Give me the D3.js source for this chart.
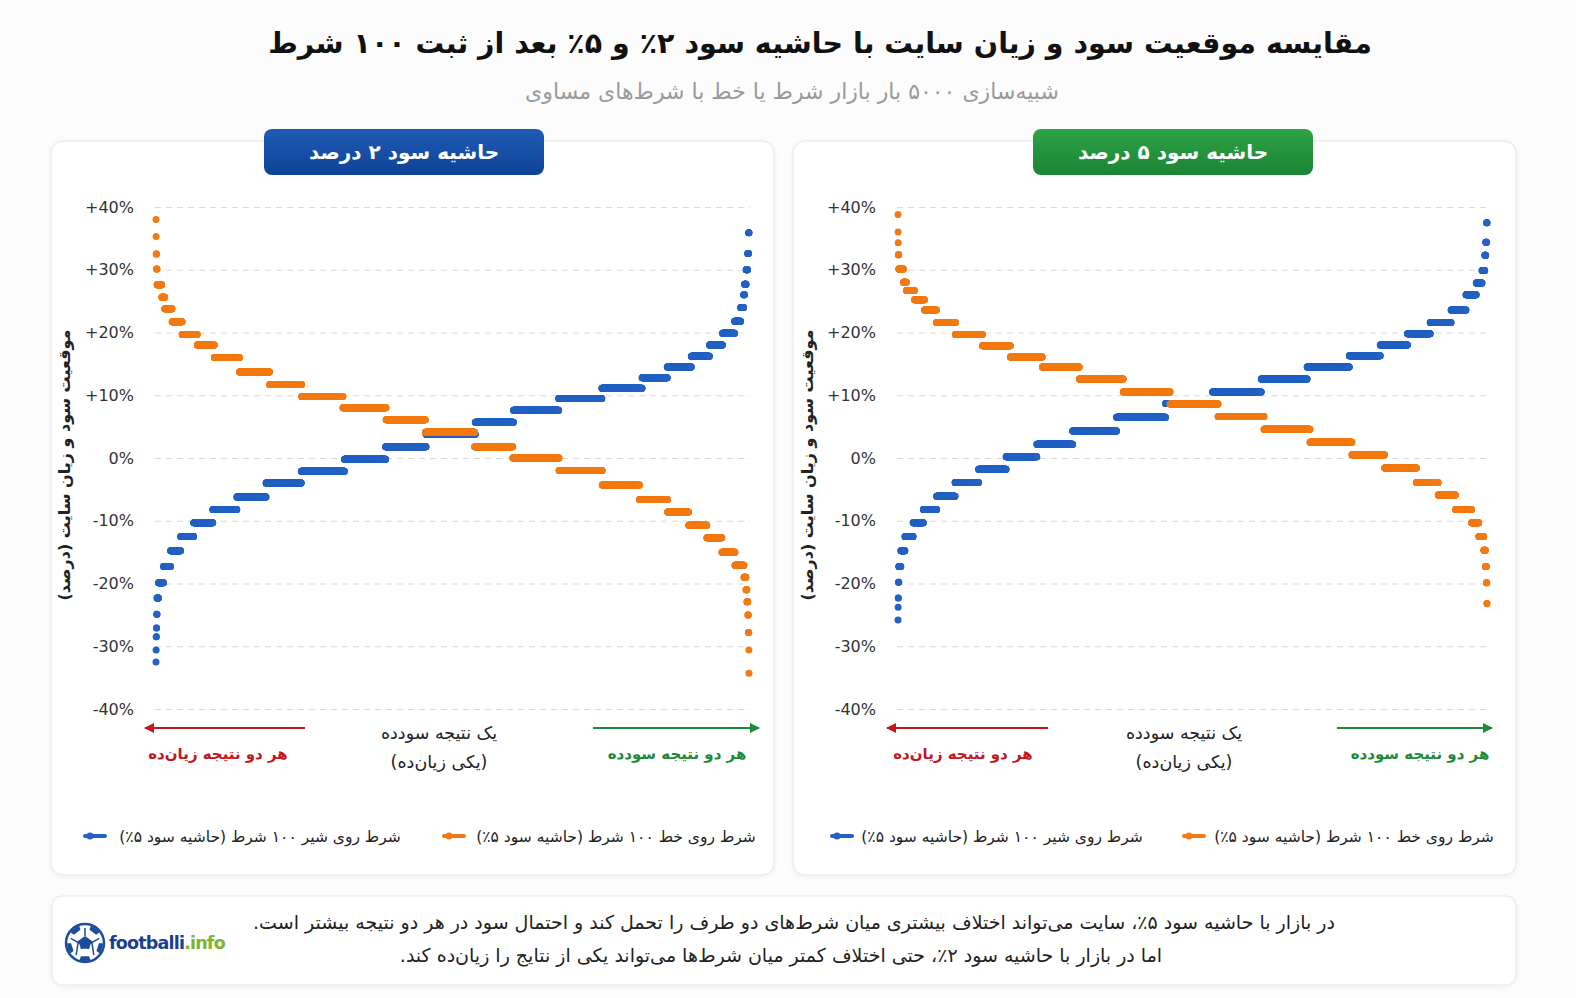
<!DOCTYPE html>
<html lang="fa">
<head>
<meta charset="utf-8">
<script src="https://cdn.jsdelivr.net/npm/d3@7/dist/d3.min.js"></script>
<style>
  body { margin: 0; background: #fcfcfc; }
  svg text { font-family: "DejaVu Sans", sans-serif; }
  .fa { direction: rtl; unicode-bidi: embed; }
</style>
</head>
<body>
<div id="chart"></div>
<script>
// y ticks (percent)
var yTicks = [40, 30, 20, 10, 0, -10, -20, -30, -40];

// 2% margin: sorted results of 5000 simulations, profit level (%) and how many runs landed on it
var m2LineValues = [38.0, 35.3, 32.5, 30.1, 27.6, 25.6, 23.8, 21.7, 19.7, 18.0, 16.0, 13.7, 11.7, 9.8, 8.0, 6.1, 4.1, 1.8, 0.0, -2.0, -4.3, -6.6, -8.6, -10.7, -12.7, -15.0, -17.1, -19.0, -21.0, -22.9, -25.0, -27.8, -30.6, -34.3];
var m2LineCounts = [1, 1, 3, 4, 40, 25, 62, 85, 127, 144, 212, 254, 271, 347, 364, 331, 415, 322, 390, 364, 314, 237, 178, 153, 127, 110, 76, 17, 8, 8, 4, 4, 1, 1];
var m2HeadValues = [-32.5, -30.6, -28.5, -27.1, -24.9, -22.3, -19.9, -17.3, -14.8, -12.5, -10.3, -8.2, -6.2, -4.0, -2.1, -0.2, 1.8, 3.8, 5.7, 7.6, 9.5, 11.1, 12.8, 14.5, 16.2, 18.0, 19.9, 21.8, 24.0, 26.0, 27.7, 30.0, 32.6, 35.9];
var m2HeadCounts = [1, 1, 2, 2, 3, 13, 42, 59, 85, 110, 161, 203, 246, 297, 364, 347, 341, 415, 322, 381, 364, 339, 212, 203, 153, 110, 102, 51, 25, 8, 13, 13, 8, 4];

// 5% margin
var m5LineValues = [38.8, 36.0, 34.3, 32.4, 30.1, 28.0, 26.7, 25.2, 23.6, 21.6, 19.7, 17.9, 16.1, 14.5, 12.6, 10.5, 8.6, 6.6, 4.6, 2.5, 0.5, -1.6, -3.9, -5.9, -8.2, -10.3, -12.5, -14.7, -17.3, -19.9, -23.2];
var m5LineCounts = [1, 1, 1, 4, 40, 25, 68, 85, 102, 161, 229, 237, 271, 314, 373, 398, 407, 390, 390, 356, 277, 271, 184, 147, 136, 62, 42, 14, 8, 4, 2];
var m5HeadValues = [-25.8, -23.8, -22.3, -19.8, -17.3, -14.8, -12.5, -10.3, -8.2, -6.1, -3.9, -1.8, 0.2, 2.2, 4.3, 6.5, 8.7, 10.5, 12.6, 14.5, 16.3, 18.0, 19.8, 21.6, 23.6, 26.0, 27.9, 29.9, 32.3, 34.4, 37.5];
var m5HeadCounts = [1, 1, 2, 3, 17, 34, 68, 85, 110, 153, 195, 229, 255, 297, 365, 407, 390, 404, 381, 350, 257, 226, 189, 173, 124, 85, 48, 23, 8, 7, 4];

var legendHead = "شرط روی شیر ۱۰۰ شرط (حاشیه سود ۵٪)";
var legendLine = "شرط روی خط ۱۰۰ شرط (حاشیه سود ۵٪)";

var orange = "#f27a12";
var blue = "#2361c3";
var red = "#c4161c";
var green = "#1d8a38";

var svgWidth = 1576;
var svgHeight = 998;

var svg = d3.select("#chart")
  .append("svg")
  .attr("width", svgWidth)
  .attr("height", svgHeight);

var defs = svg.append("defs");

var shadow = defs.append("filter").attr("id", "shadow")
  .attr("x", "-5%").attr("y", "-5%").attr("width", "110%").attr("height", "110%");
shadow.append("feDropShadow").attr("dx", 0).attr("dy", 1).attr("stdDeviation", 2)
  .attr("flood-color", "#000").attr("flood-opacity", 0.06);

function gradient(id, top, bottom) {
  var gr = defs.append("linearGradient").attr("id", id)
    .attr("x1", 0).attr("y1", 0).attr("x2", 0).attr("y2", 1);
  gr.append("stop").attr("offset", "0%").attr("stop-color", top);
  gr.append("stop").attr("offset", "100%").attr("stop-color", bottom);
}
gradient("gBlue", "#1f5bb5", "#0e4396");
gradient("gGreen", "#2ea347", "#1b8433");

function arrowMarker(id, color) {
  defs.append("marker").attr("id", id)
    .attr("viewBox", "0 0 10 10").attr("refX", 9).attr("refY", 5)
    .attr("markerWidth", 5).attr("markerHeight", 5).attr("orient", "auto")
    .append("path").attr("d", "M0,0 L10,5 L0,10 z").attr("fill", color);
}
arrowMarker("arrRed", red);
arrowMarker("arrGreen", green);

// Title
svg.append("text")
  .attr("class", "fa")
  .attr("x", 820).attr("y", 53)
  .attr("text-anchor", "middle")
  .attr("font-size", 28.5).attr("font-weight", "bold").attr("fill", "#111")
  .text("مقایسه موقعیت سود و زیان سایت با حاشیه سود ۲٪ و ۵٪ بعد از ثبت ۱۰۰ شرط");

svg.append("text")
  .attr("class", "fa")
  .attr("x", 792).attr("y", 99)
  .attr("text-anchor", "middle")
  .attr("font-size", 22).attr("fill", "#9a9a9a")
  .text("شبیه‌سازی ۵۰۰۰ بار بازار شرط یا خط با شرط‌های مساوی");

var y = d3.scaleLinear().domain([-40, 40]).range([709, 207]);

function expand(values, counts) {
  var out = [];
  values.forEach(function(v, i) {
    for (var k = 0; k < counts[i]; k++) out.push(v);
  });
  return out;
}

function drawPanel(p) {
  var g = svg.append("g");

  g.append("rect")
    .attr("x", p.left).attr("y", 141)
    .attr("width", 723).attr("height", 734)
    .attr("rx", 12)
    .attr("fill", "#fff")
    .attr("stroke", "#e6e6e6")
    .attr("filter", "url(#shadow)");

  // header badge
  g.append("rect")
    .attr("x", p.badgeX).attr("y", 129)
    .attr("width", 280).attr("height", 46)
    .attr("rx", 8)
    .attr("fill", p.badgeFill);
  g.append("text")
    .attr("class", "fa")
    .attr("x", p.badgeX + 140).attr("y", 159)
    .attr("text-anchor", "middle")
    .attr("font-size", 20).attr("font-weight", "bold").attr("fill", "#fff")
    .text(p.title);

  // y axis with dashed grid
  var leftAxis = d3.axisLeft(y)
    .tickValues(yTicks)
    .tickSize(-(p.x1 - p.x0 + 2))
    .tickPadding(21)
    .tickFormat(d => (d > 0 ? "+" : "") + d + "%");

  var ax = g.append("g")
    .attr("transform", `translate(${p.x0 - 1}, 0)`)
    .call(leftAxis);
  ax.select(".domain").remove();
  ax.selectAll(".tick line")
    .attr("stroke", "#d9d9d9")
    .attr("stroke-dasharray", "6,5");
  ax.selectAll(".tick text")
    .attr("font-family", "'Open Sans', sans-serif")
    .attr("font-size", 16)
    .attr("fill", "#333");

  g.append("text")
    .attr("class", "fa")
    .attr("transform", `translate(${p.titleX}, 465) rotate(-90)`)
    .attr("text-anchor", "middle")
    .attr("font-size", 16).attr("font-weight", "bold").attr("fill", "#222")
    .text("موقعیت سود و زیان سایت (درصد)");

  // dots: blue first, orange on top
  [p.head, p.line].forEach(function(s) {
    var vals = expand(s.values, s.counts);
    var x = d3.scaleLinear().domain([0, vals.length - 1]).range([p.x0, p.x1]);
    g.append("g").selectAll("circle")
      .data(vals)
      .enter()
      .append("circle")
      .attr("cx", (d, i) => x(i))
      .attr("cy", d => y(d))
      .attr("r", 3.5)
      .attr("fill", s.color);
  });

  // arrows under the chart
  g.append("line")
    .attr("x1", p.redArrow[0]).attr("x2", p.redArrow[1])
    .attr("y1", 728).attr("y2", 728)
    .attr("stroke", red).attr("stroke-width", 2)
    .attr("marker-end", "url(#arrRed)");
  g.append("line")
    .attr("x1", p.greenArrow[0]).attr("x2", p.greenArrow[1])
    .attr("y1", 728).attr("y2", 728)
    .attr("stroke", green).attr("stroke-width", 2)
    .attr("marker-end", "url(#arrGreen)");

  g.append("text").attr("class", "fa")
    .attr("x", p.redText).attr("y", 759)
    .attr("text-anchor", "middle").attr("font-size", 15).attr("font-weight", "bold").attr("fill", red)
    .text("هر دو نتیجه زیان‌ده");
  g.append("text").attr("class", "fa")
    .attr("x", p.greenText).attr("y", 759)
    .attr("text-anchor", "middle").attr("font-size", 15).attr("font-weight", "bold").attr("fill", green)
    .text("هر دو نتیجه سودده");
  g.append("text").attr("class", "fa")
    .attr("x", p.midText).attr("y", 739)
    .attr("text-anchor", "middle").attr("font-size", 17.5).attr("fill", "#222")
    .text("یک نتیجه سودده");
  g.append("text").attr("class", "fa")
    .attr("x", p.midText).attr("y", 768)
    .attr("text-anchor", "middle").attr("font-size", 17.5).attr("fill", "#222")
    .text("(یکی زیان‌ده)");

  // legend
  var items = [
    {label: legendHead, color: blue, mark: p.legend[0], text: p.legend[1]},
    {label: legendLine, color: orange, mark: p.legend[2], text: p.legend[3]}
  ];
  items.forEach(function(it) {
    g.append("line")
      .attr("x1", it.mark - 10).attr("x2", it.mark + 10)
      .attr("y1", 836).attr("y2", 836)
      .attr("stroke", it.color).attr("stroke-width", 4).attr("stroke-linecap", "round");
    g.append("circle")
      .attr("cx", it.mark - 5).attr("cy", 836).attr("r", 3.5).attr("fill", it.color);
    g.append("text").attr("class", "fa")
      .attr("x", it.text).attr("y", 842)
      .attr("text-anchor", "middle").attr("font-size", 15.5).attr("fill", "#222")
      .text(it.label);
  });
}

drawPanel({
  left: 51, badgeX: 264, badgeFill: "url(#gBlue)", title: "حاشیه سود ۲ درصد",
  x0: 156, x1: 749, titleX: 70,
  head: {values: m2HeadValues, counts: m2HeadCounts, color: blue},
  line: {values: m2LineValues, counts: m2LineCounts, color: orange},
  redArrow: [305, 145], greenArrow: [593, 759],
  redText: 218, greenText: 677, midText: 439,
  legend: [95, 260, 454, 616]
});

drawPanel({
  left: 793, badgeX: 1033, badgeFill: "url(#gGreen)", title: "حاشیه سود ۵ درصد",
  x0: 898, x1: 1487, titleX: 813,
  head: {values: m5HeadValues, counts: m5HeadCounts, color: blue},
  line: {values: m5LineValues, counts: m5LineCounts, color: orange},
  redArrow: [1048, 887], greenArrow: [1337, 1492],
  redText: 963, greenText: 1420, midText: 1184,
  legend: [842, 1002, 1194, 1354]
});

// footer note
svg.append("rect")
  .attr("x", 52).attr("y", 896)
  .attr("width", 1464).attr("height", 89)
  .attr("rx", 10)
  .attr("fill", "#fff")
  .attr("stroke", "#e6e6e6")
  .attr("filter", "url(#shadow)");

svg.append("text").attr("class", "fa")
  .attr("x", 794).attr("y", 929)
  .attr("text-anchor", "middle").attr("font-size", 19).attr("fill", "#222")
  .text("در بازار با حاشیه سود ۵٪، سایت می‌تواند اختلاف بیشتری میان شرط‌های دو طرف را تحمل کند و احتمال سود در هر دو نتیجه بیشتر است.");
svg.append("text").attr("class", "fa")
  .attr("x", 781).attr("y", 962)
  .attr("text-anchor", "middle").attr("font-size", 19).attr("fill", "#222")
  .text("اما در بازار با حاشیه سود ۲٪، حتی اختلاف کمتر میان شرط‌ها می‌تواند یکی از نتایج را زیان‌ده کند.");

// logo
var logo = svg.append("g").attr("transform", "translate(85, 943)");
defs.append("clipPath").attr("id", "ballClip")
  .append("circle").attr("r", 18);
logo.append("circle").attr("r", 19).attr("fill", "#fff").attr("stroke", "#1d4c9c").attr("stroke-width", 2.5);
var pent = d3.range(5).map(i => {
  var a = -Math.PI / 2 + i * 2 * Math.PI / 5;
  return [Math.cos(a) * 7, Math.sin(a) * 7];
});
var ball = logo.append("g").attr("clip-path", "url(#ballClip)");
ball.append("polygon").attr("points", pent.map(p => p.join(",")).join(" ")).attr("fill", "#1d4c9c");
d3.range(5).forEach(function(i) {
  var a = Math.PI / 2 + i * 2 * Math.PI / 5;
  ball.append("polygon")
    .attr("transform", `translate(${Math.cos(a) * 19}, ${Math.sin(a) * 19}) rotate(36)`)
    .attr("points", pent.map(p => p.join(",")).join(" "))
    .attr("fill", "#1d4c9c");
  ball.append("line")
    .attr("x1", pent[0][0]).attr("y1", pent[0][1])
    .attr("x2", Math.cos(a + Math.PI) * 15).attr("y2", Math.sin(a + Math.PI) * 15)
    .attr("transform", `rotate(${i * 72})`)
    .attr("stroke", "#1d4c9c").attr("stroke-width", 1.5);
});

var logoText = svg.append("text")
  .attr("x", 109).attr("y", 949)
  .attr("font-family", "Roboto, sans-serif")
  .attr("font-size", 17.5).attr("font-weight", "bold")
  .attr("letter-spacing", -0.8);
logoText.append("tspan").attr("fill", "#1b3f8f").text("footballi");
logoText.append("tspan").attr("fill", "#7bb62c").text(".info");
</script>
</body>
</html>
